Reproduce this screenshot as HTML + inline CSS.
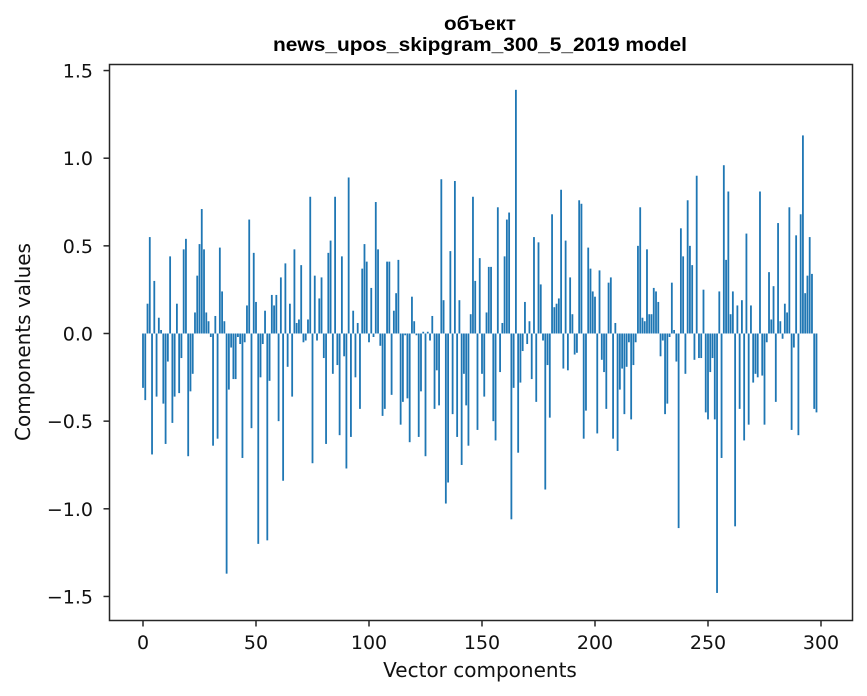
<!DOCTYPE html>
<html><head><meta charset="utf-8"><style>
body{margin:0;background:#fff;}
svg{display:block;font-family:"DejaVu Sans","Liberation Sans",sans-serif;}
</style></head><body>
<svg id="chart" width="867" height="696" viewBox="0 0 867 696" xmlns="http://www.w3.org/2000/svg">
<rect width="867" height="696" fill="#fff"/>
<text x="480" y="30" text-anchor="middle" font-size="19" font-weight="bold" font-family="Liberation Sans, sans-serif" textLength="72" lengthAdjust="spacingAndGlyphs">объект</text>
<text x="480" y="51" text-anchor="middle" font-size="19" font-weight="bold" font-family="Liberation Sans, sans-serif" textLength="414" lengthAdjust="spacingAndGlyphs">news_upos_skipgram_300_5_2019 model</text>
<g id="bars"></g>
<g id="xticks"></g>
<g id="yticks"></g>
<rect x="109.5" y="64.5" width="743" height="556" fill="none" stroke="#262626" stroke-width="1.5"/>
<text x="480" y="677" text-anchor="middle" font-size="20" fill="#111">Vector components</text>
<text x="30" y="342" text-anchor="middle" font-size="20" fill="#111" transform="rotate(-90 30 342)">Components values</text>
</svg>
<script>
const values = [-0.31,-0.38,0.17,0.55,-0.69,0.30,-0.36,0.09,0.02,-0.40,-0.63,-0.16,0.44,-0.51,-0.36,0.17,-0.34,-0.14,0.48,0.54,-0.70,-0.33,-0.23,0.12,0.33,0.51,0.71,0.48,0.12,0.07,-0.02,-0.64,0.10,-0.60,0.49,0.24,0.07,-1.37,-0.32,-0.08,-0.26,-0.26,-0.02,-0.06,-0.71,-0.05,0.16,0.65,-0.54,0.46,0.18,
-1.20,-0.25,-0.06,0.13,-1.18,-0.27,0.22,0.16,0.22,-0.50,0.32,-0.84,0.40,-0.19,0.17,-0.36,0.48,0.06,0.08,0.39,-0.05,-0.04,0.08,0.78,-0.74,0.33,-0.04,0.20,0.32,-0.14,-0.63,0.46,0.53,-0.23,0.78,-0.18,-0.58,0.44,-0.13,-0.77,0.89,-0.59,0.13,-0.25,0.06,-0.43,0.37,0.51,0.41,-0.05,
0.26,-0.02,0.75,0.48,-0.07,-0.47,-0.43,0.41,0.41,-0.35,0.13,0.23,0.42,-0.52,-0.39,-0.01,-0.37,-0.62,0.21,0.07,-0.01,-0.59,-0.33,0.01,-0.70,0.01,-0.04,0.10,-0.43,-0.21,-0.41,0.88,0.19,-0.97,-0.85,0.47,-0.46,0.87,-0.59,0.19,-0.75,-0.23,-0.41,-0.64,0.11,0.78,0.30,-0.55,0.43,-0.23,
-0.36,0.12,0.38,0.38,-0.50,-0.61,0.72,-0.22,0.06,0.44,0.65,0.69,-1.06,-0.31,1.39,-0.68,-0.28,-0.10,0.18,-0.06,0.07,-0.26,0.55,-0.39,0.52,0.28,-0.04,-0.89,-0.18,-0.48,0.68,0.15,0.17,0.20,0.82,-0.20,0.53,-0.21,0.32,0.11,-0.12,-0.11,0.76,0.74,-0.60,-0.44,0.49,0.37,0.24,0.21,
-0.57,0.36,-0.15,-0.22,-0.43,0.29,0.32,-0.60,0.06,-0.67,-0.32,-0.20,-0.46,-0.19,-0.05,-0.49,-0.18,-0.05,0.50,0.72,0.09,0.07,0.48,0.11,0.11,0.26,0.24,0.18,-0.13,-0.04,-0.46,-0.40,-0.02,0.29,0.02,-0.16,-1.11,0.60,0.44,-0.23,0.76,0.50,0.39,-0.15,0.90,-0.14,-0.14,0.25,-0.45,-0.49,
-0.22,-0.14,-0.49,-1.48,0.24,-0.71,0.96,0.42,0.81,0.11,0.24,-1.10,0.16,-0.43,0.19,-0.61,0.57,-0.52,0.16,-0.28,-0.23,-0.25,0.81,-0.24,-0.52,-0.05,0.35,0.08,0.27,-0.39,0.63,0.07,-0.03,0.17,0.12,0.72,-0.55,-0.08,0.56,-0.58,0.68,1.13,0.23,0.33,0.55,0.34,-0.43,-0.45];
const xTicks = [0,50,100,150,200,250,300];
const yTicks = [-1.5,-1.0,-0.5,0.0,0.5,1.0,1.5];
const yTickLabels = ["\u22121.5","\u22121.0","\u22120.5","0.0","0.5","1.0","1.5"];

const NS="http://www.w3.org/2000/svg";
function xs(v){return 143+(v)*(821-143)/300;}
function ys(v){return 333.5-v*175.3;}
const bars=document.getElementById('bars');
const bw=0.8*(821-143)/300;
values.forEach((v,i)=>{
  const r=document.createElementNS(NS,'rect');
  
  
  const y0=ys(0),y1=ys(v);
  r.setAttribute('x',xs(i)-bw/2);
  r.setAttribute('width',bw);
  r.setAttribute('y',Math.min(y0,y1));
  r.setAttribute('height',Math.max(Math.abs(y1-y0),0.3));
  r.setAttribute('fill','#1f77b4');
  bars.appendChild(r);
});
const xg=document.getElementById('xticks');
xTicks.forEach(t=>{
  const x=xs(t);
  const l=document.createElementNS(NS,'line');
  
  
  l.setAttribute('x1',x);l.setAttribute('x2',x);l.setAttribute('y1',620.5);l.setAttribute('y2',626.5);
  l.setAttribute('stroke','#262626');l.setAttribute('stroke-width','1.5');
  xg.appendChild(l);
  const tx=document.createElementNS(NS,'text');
  
  
  tx.setAttribute('x',x);tx.setAttribute('y',649);tx.setAttribute('text-anchor','middle');tx.setAttribute('font-size','19');
  tx.setAttribute('fill','#111');
  tx.textContent=t;
  xg.appendChild(tx);
});
const yg=document.getElementById('yticks');
yTicks.forEach((t,i)=>{
  const y=ys(t);
  const l=document.createElementNS(NS,'line');
  
  
  l.setAttribute('x1',103.5);l.setAttribute('x2',109.5);l.setAttribute('y1',y);l.setAttribute('y2',y);
  l.setAttribute('stroke','#262626');l.setAttribute('stroke-width','1.5');
  yg.appendChild(l);
  const tx=document.createElementNS(NS,'text');
  
  
  tx.setAttribute('x',93);tx.setAttribute('y',y+7);tx.setAttribute('text-anchor','end');tx.setAttribute('font-size','19');
  tx.setAttribute('fill','#111');
  tx.textContent=yTickLabels[i];
  yg.appendChild(tx);
});
</script>
</body></html>
